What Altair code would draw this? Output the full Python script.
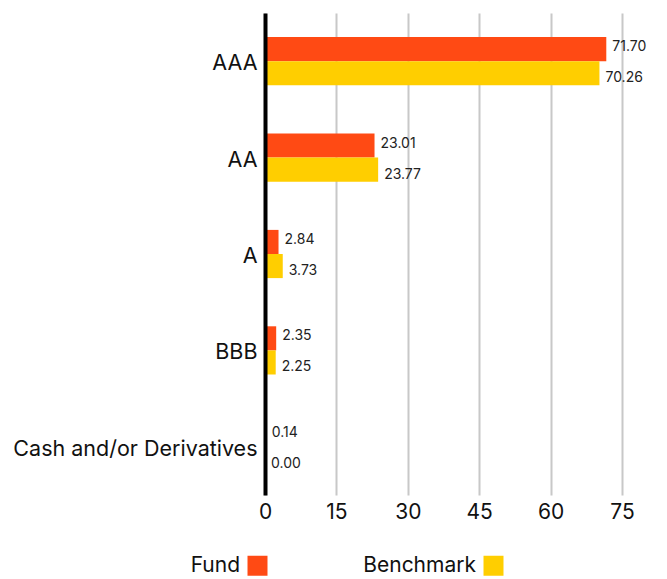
import altair as alt
import pandas as pd

categories = ["AAA", "AA", "A", "BBB", "Cash and/or Derivatives"]
series = ["Fund", "Benchmark"]
fund = [71.70, 23.01, 2.84, 2.35, 0.14]
benchmark = [70.26, 23.77, 3.73, 2.25, 0.00]
colors = ["#FF4A14", "#FFCE00"]
x_ticks = [0, 15, 30, 45, 60, 75]

rows = []
for c, f, b in zip(categories, fund, benchmark):
    rows.append({"category": c, "series": "Fund", "value": f})
    rows.append({"category": c, "series": "Benchmark", "value": b})
df = pd.DataFrame(rows)

FONT = "Inter"

y = alt.Y(
    "category:N", sort=categories,
    scale=alt.Scale(paddingInner=0.5, paddingOuter=0.25),
    axis=alt.Axis(title=None, ticks=False, domain=True, domainColor="#000000",
                  domainWidth=4, labelFontSize=21.5, labelPadding=8, labelOffset=3,
                  labelColor="#111111", labelFont=FONT, labelLimit=400, grid=False,
                  zindex=1),
)
x = alt.X(
    "value:Q", scale=alt.Scale(domain=[0, 75], nice=False),
    axis=alt.Axis(title=None, values=x_ticks, domain=False, ticks=False, grid=True,
                  gridColor="#C8C8C8", gridWidth=2, labelFontSize=21, labelPadding=6,
                  labelFlush=False, labelFont=FONT, labelColor="#111111"),
)
yoff = alt.YOffset("series:N", sort=series, scale=alt.Scale(paddingInner=0, paddingOuter=0))
color = alt.Color(
    "series:N", sort=series, scale=alt.Scale(domain=series, range=colors),
    legend=alt.Legend(title=None, orient="none", direction="horizontal",
                      legendX=-18, legendY=542, symbolType="square", symbolSize=400,
                      symbolStrokeWidth=0, labelAlign="right",
                      labelOffset=alt.ExprRef("-28"),
                      labelFontSize=21, labelFont=FONT, labelColor="#111111",
                      columnPadding=95),
)

bars = alt.Chart(df).mark_bar().encode(x=x, y=y, yOffset=yoff, color=color)


def value_labels(name, dy):
    return alt.Chart(df).transform_filter(alt.datum.series == name).mark_text(
        align="left", baseline="middle", dx=6, dy=dy, fontSize=14, font=FONT,
        color="#222222",
    ).encode(
        x=alt.X("value:Q"), y=alt.Y("category:N", sort=categories), yOffset=yoff,
        text=alt.Text("value:Q", format=".2f"),
    )


chart = alt.layer(bars, value_labels("Fund", -2), value_labels("Benchmark", 5)).properties(
    width=357, height=482,
    autosize=alt.AutoSizeParams(type="none"),
    padding={"left": 265, "top": 13, "right": 45, "bottom": 84},
).configure_view(stroke=None)

chart.save("out.html", embed_options={"renderer": "svg", "actions": False})
